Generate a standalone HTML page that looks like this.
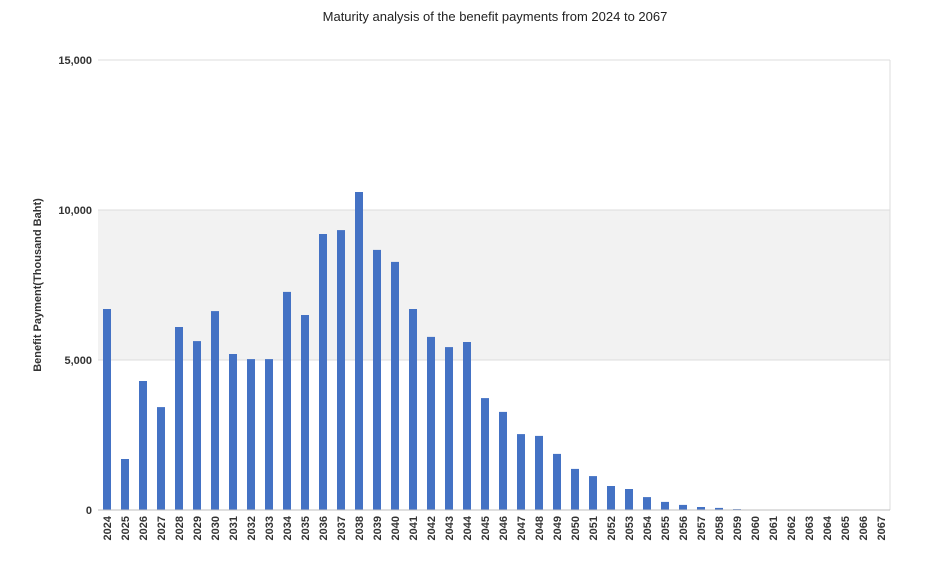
<!DOCTYPE html>
<html><head><meta charset="utf-8"><style>
html,body{margin:0;padding:0;background:#fff;}
svg{display:block;font-family:"Liberation Sans",sans-serif;}
</style></head><body>
<svg id="chart" width="940" height="565">
<text x="495" y="21" text-anchor="middle" font-size="13" fill="#222">Maturity analysis of the benefit payments from 2024 to 2067</text>
<g id="grid"></g><g id="bars"></g><g id="axes"></g>
<text transform="translate(41,285) rotate(-90)" text-anchor="middle" font-size="11" font-weight="bold" fill="#333">Benefit Payment(Thousand Baht)</text>
</svg>
<script>
const categories = [];
for (let y = 2024; y <= 2067; y++) categories.push(String(y));
const values = [6700,1700,4300,3430,6100,5630,6630,5200,5030,5030,7270,6500,9200,9330,10600,8670,8270,6700,5770,5430,5600,3730,3270,2530,2470,1870,1370,1130,800,700,430,270,170,100,70,30,0,0,0,0,0,0,0,0];
const yTicks = [0,5000,10000,15000];
const yTickLabels = ["0","5,000","10,000","15,000"];

const NS = "http://www.w3.org/2000/svg";
const L = 98, R = 890, T = 60, B = 510, yMax = 15000;
const band = (R - L) / categories.length;
const xPos = i => L + band * i + band / 2;
const yPos = v => B - (v / yMax) * (B - T);
function mk(tag, attrs, parent) { const e = document.createElementNS(NS, tag); for (const k in attrs) e.setAttribute(k, attrs[k]); parent.appendChild(e); return e; }
const grid = document.getElementById("grid"), bars = document.getElementById("bars"), axes = document.getElementById("axes");

for (let i = 0; i < yTicks.length - 1; i++) {
  const r = mk("rect", {x: L, y: yPos(yTicks[i+1]), width: R - L, height: yPos(yTicks[i]) - yPos(yTicks[i+1]), fill: i % 2 === 1 ? "#f2f2f2" : "#fff"}, grid);
  
  
}
yTicks.forEach((t, i) => {
  const ln = mk("line", {x1: L, x2: R, y1: yPos(t), y2: yPos(t), stroke: "#dcdcdc", "stroke-width": 1}, grid);
  
  
  const tx = mk("text", {x: L - 6, y: yPos(t) + 4, "text-anchor": "end", "font-size": 11, "font-weight": "bold", fill: "#333"}, axes);
  tx.textContent = yTickLabels[i];
  
  
});
mk("line", {x1: R, x2: R, y1: T, y2: B, stroke: "#dcdcdc"}, grid);
categories.forEach((c, i) => {
  const v = values[i];
  const r = mk("rect", {x: xPos(i) - 4, y: yPos(v), width: 8, height: B - yPos(v), fill: "#4472c4"}, bars);
  
  
  const tx = mk("text", {transform: `translate(${xPos(i) + 4},${B + 6}) rotate(-90)`, "text-anchor": "end", "font-size": 11, "font-weight": "bold", fill: "#333"}, axes);
  tx.textContent = c;
  
  
});
const ax = mk("line", {x1: L, x2: R, y1: B, y2: B, stroke: "#bfbfbf"}, axes);


</script>
</body></html>
